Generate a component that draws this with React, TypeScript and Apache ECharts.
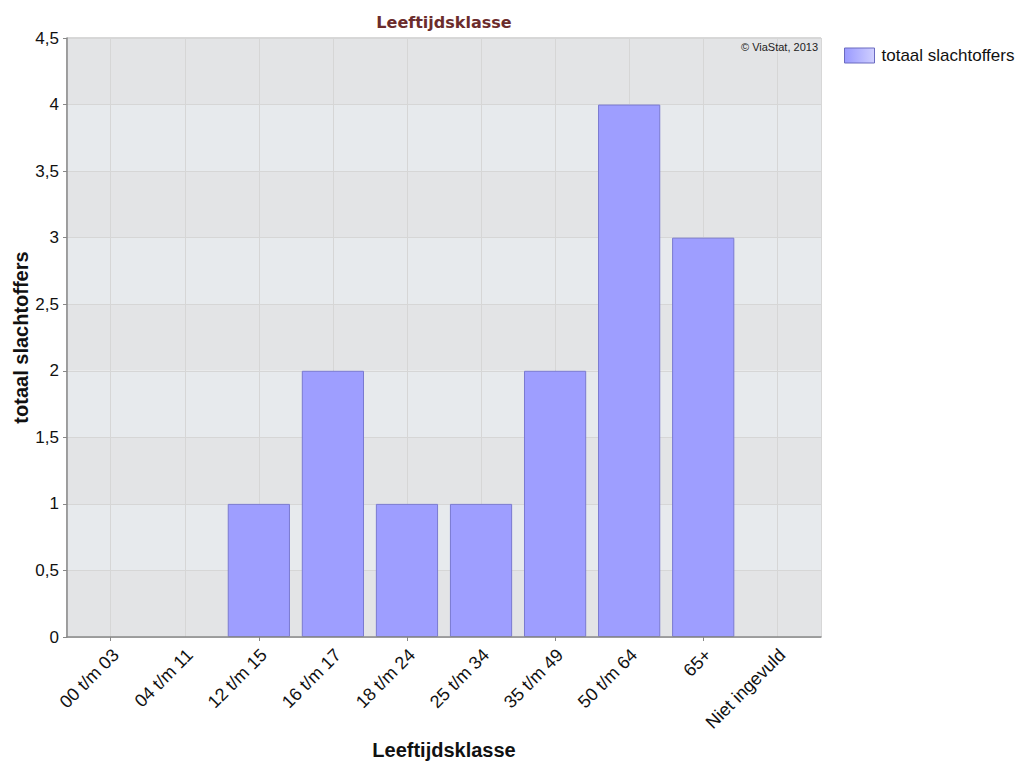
import React, { useEffect, useRef } from "react";
import * as echarts from "echarts";

const categories = [
  "00 t/m 03",
  "04 t/m 11",
  "12 t/m 15",
  "16 t/m 17",
  "18 t/m 24",
  "25 t/m 34",
  "35 t/m 49",
  "50 t/m 64",
  "65+",
  "Niet ingevuld",
];
const values = [0, 0, 1, 2, 1, 1, 2, 4, 3, 0];
const seriesName = "totaal slachtoffers";
const yMin = 0;
const yMax = 4.5;
const yStep = 0.5;

export default function App() {
  const ref = useRef<HTMLDivElement>(null);
  useEffect(() => {
    document.body.style.margin = "0";
    document.body.style.overflow = "hidden";
    if (!ref.current) return;
    const chart = echarts.init(ref.current, null, { renderer: "svg" });
    const font = "'Liberation Sans', Arial, sans-serif";
    const W = 1016;
    const H = 761;
    const plotL = 67;
    const plotR = 821;
    const plotT = 38;
    const plotB = 637;
    const catL = 73.7;
    const catR = 814.3;
    const step = (catR - catL) / categories.length;
    const labelShift = 5;
    const gridBase = { top: plotT, bottom: H - plotB, outerBoundsMode: "none", containLabel: false };
    const hiddenY = (gi: number) => ({ gridIndex: gi, type: "value", min: yMin, max: yMax, interval: yStep, show: false });
    chart.setOption({
      animation: false,
      backgroundColor: "#ffffff",
      legend: {
        left: 844,
        top: 47,
        padding: 0,
        width: 172,
        orient: "vertical",
        itemWidth: 30,
        itemHeight: 15,
        itemGap: 8,
        icon: "rect",
        textStyle: {
          fontFamily: font,
          fontSize: 17,
          color: "#111",
          padding: [0, 0, 0, 2],
          width: 140,
          overflow: "none",
        },
        data: [
          {
            name: seriesName,
            itemStyle: {
              color: new echarts.graphic.LinearGradient(0, 0, 1, 0, [
                { offset: 0, color: "#9a9aff" },
                { offset: 1, color: "#d0d0ff" },
              ]),
              borderColor: "#6a6ac0",
              borderWidth: 1,
            },
          },
        ],
      },
      graphic: [
        {
          type: "text",
          x: 444,
          y: 22,
          z: 100,
          style: {
            text: "Leeftijdsklasse",
            font: "bold 16px 'DejaVu Sans', Verdana, sans-serif",
            fill: "#6b2c2c",
            align: "center",
            verticalAlign: "middle",
          },
        },
        {
          type: "text",
          x: 444,
          y: 750,
          z: 100,
          style: {
            text: "Leeftijdsklasse",
            font: "bold 20px 'Liberation Sans', Arial, sans-serif",
            fill: "#111",
            align: "center",
            verticalAlign: "middle",
          },
        },
        {
          type: "text",
          right: W - 818,
          top: 41,
          z: 100,
          style: {
            text: "© ViaStat, 2013",
            font: "11px 'Liberation Sans', Arial, sans-serif",
            fill: "#222",
          },
        },
      ],
      grid: [
        {
          ...gridBase,
          left: plotL,
          right: W - plotR,
          show: true,
          borderColor: "#b0b0b0",
          borderWidth: 1,
          backgroundColor: "transparent",
        },
        { ...gridBase, left: catL, right: W - catR },
        { ...gridBase, left: catL + step / 2, right: W - (catR - step / 2) },
        { ...gridBase, left: catL + labelShift, right: W - catR - labelShift },
      ],
      xAxis: [
        {
          gridIndex: 0,
          type: "value",
          min: 0,
          max: 1,
          axisLabel: { show: false },
          axisTick: { show: false },
          splitLine: { show: false },
          axisLine: { show: true, onZero: false, lineStyle: { color: "#888", width: 1.5 } },
          z: 5,
        },
        {
          gridIndex: 1,
          type: "category",
          data: categories,
          boundaryGap: true,
          axisLine: { show: false },
          axisTick: {
            show: true,
            alignWithLabel: true,
            length: 4,
            lineStyle: { color: "#888" },
          },
          splitLine: { show: false },
          axisLabel: { show: false },
          z: 5,
        },
        {
          gridIndex: 2,
          type: "category",
          data: categories,
          boundaryGap: false,
          axisLine: { show: false },
          axisTick: { show: false },
          axisLabel: { show: false },
          splitLine: {
            show: true,
            interval: 0,
            lineStyle: { color: "#d6d6d6", width: 1 },
          },
          z: 2,
        },
        {
          gridIndex: 3,
          type: "category",
          data: categories,
          boundaryGap: true,
          axisLine: { show: false },
          axisTick: { show: false },
          splitLine: { show: false },
          axisLabel: {
            interval: 0,
            rotate: 45,
            margin: 15,
            fontFamily: font,
            fontSize: 18,
            color: "#111",
          },
        },
      ],
      yAxis: [
        {
          gridIndex: 0,
          type: "value",
          min: yMin,
          max: yMax,
          interval: yStep,
          axisLine: { show: true, lineStyle: { color: "#888", width: 1.5 } },
          axisTick: { show: true, length: 4, lineStyle: { color: "#888" } },
          splitLine: { show: true, lineStyle: { color: "#d6d6d6", width: 1 } },
          splitArea: { show: true, areaStyle: { color: ["#e3e4e6", "#e7eaed"] } },
          axisLabel: {
            fontFamily: font,
            fontSize: 17,
            color: "#111",
            margin: 8,
            formatter: (v: number) => String(v).replace(".", ","),
          },
          name: "totaal slachtoffers",
          nameLocation: "middle",
          nameGap: 36,
          nameMoveOverlap: false,
          nameTextStyle: {
            fontFamily: font,
            fontWeight: "bold",
            fontSize: 20,
            color: "#111",
          },
          z: 1,
        },
        hiddenY(1),
        hiddenY(2),
        hiddenY(3),
      ],
      series: [
        {
          name: seriesName,
          type: "bar",
          xAxisIndex: 1,
          yAxisIndex: 1,
          data: values.map((v) => (v === 0 ? "-" : v)),
          barCategoryGap: "16%",
          z: 3,
          itemStyle: {
            color: "#9e9eff",
            borderColor: "#7a7ad0",
            borderWidth: 1,
          },
        },
      ],
    });
    return () => chart.dispose();
  }, []);
  return <div ref={ref} style={{ width: 1016, height: 761 }} />;
}
